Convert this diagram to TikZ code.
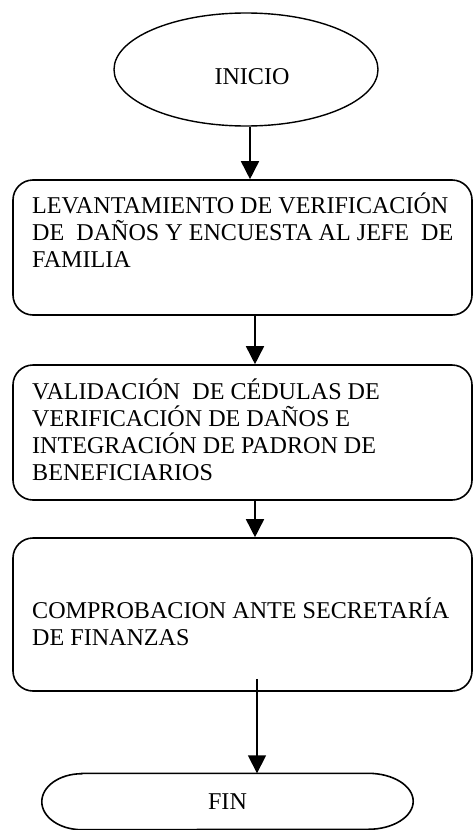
\documentclass[tikz,border=0pt]{standalone}
\usepackage{fontspec}
\setmainfont{Liberation Serif}
\usetikzlibrary{shapes.geometric,arrows.meta}
\begin{document}
\begin{tikzpicture}[x=1pt,y=-1pt,
  shape line/.style={draw=black, line width=1.6pt},
  procbox/.style={shape line, rectangle, rounded corners=20pt, minimum width=459pt, inner sep=0pt},
  lbl/.style={font=\fontsize{24.1pt}{27pt}\selectfont, inner sep=0pt, align=left},
  arr/.style={line width=1.6pt, -{Triangle[length=18pt,width=18pt]}}]
\useasboundingbox (0,0) rectangle (473,830);
% start
\node[draw=black, line width=1.4pt, ellipse, minimum width=264pt, minimum height=113pt, inner sep=0pt] (inicio) at (246,69.5) {};
\node[lbl, anchor=center] (inicioT) at (252,77) {INICIO};
% boxes
\node[procbox, minimum height=135pt] (b1) at (242.5,247.5) {};
\node[lbl, anchor=base west] (b1T) at (32,267) {LEVANTAMIENTO DE VERIFICACIÓN\\DE~~DAÑOS Y ENCUESTA AL JEFE~~DE\\FAMILIA};
\node[procbox, minimum height=135pt] (b2) at (242.5,432.5) {};
\node[lbl, anchor=base west] (b2T) at (32,480) {VALIDACIÓN~~DE CÉDULAS DE\\VERIFICACIÓN DE DAÑOS E\\INTEGRACIÓN DE PADRON DE\\BENEFICIARIOS};
\node[procbox, minimum height=153pt] (b3) at (242.5,614.5) {};
\node[lbl, anchor=base west] (b3T) at (32,645) {COMPROBACION ANTE SECRETARÍA\\DE FINANZAS};
% end terminator
\node[lbl, minimum width=371pt, minimum height=56pt, anchor=center] (fin) at (227.5,801.5) {FIN};
\draw[shape line] ([xshift=40pt]fin.north west) -- ([xshift=-45pt]fin.north east)
  arc[start angle=90, end angle=-90, x radius=45pt, y radius=28pt]
  -- ([xshift=40pt]fin.south west)
  arc[start angle=270, end angle=90, x radius=40pt, y radius=28pt] -- cycle;
\coordinate (finIn) at (fin.north -| 257,0);
% connectors
\draw[arr] ([xshift=4pt]inicio.south) -- ([xshift=7.5pt]b1.north);
\draw[arr] ([xshift=12.5pt]b1.south) -- ([xshift=12.5pt]b2.north);
\draw[arr] ([xshift=12.5pt]b2.south) -- ([xshift=12.5pt]b3.north);
\draw[arr] ([xshift=14.5pt,yshift=13pt]b3.south) -- (finIn);
\end{tikzpicture}
\end{document}
